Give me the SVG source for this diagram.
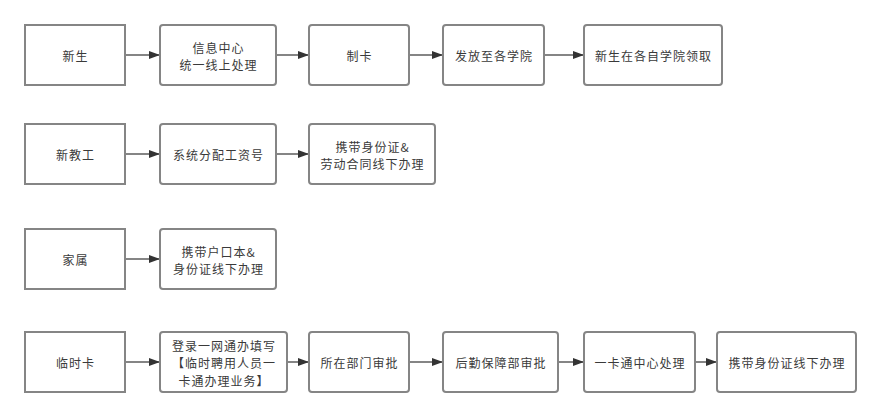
<svg xmlns="http://www.w3.org/2000/svg" width="881" height="417" viewBox="0 0 881 417">
<style>
.n{fill:#fff;stroke:#858585;stroke-width:2}
.t{font-family:"Noto Sans CJK SC","Liberation Sans",sans-serif;font-size:12px;letter-spacing:1px;fill:#3a3a3a;text-anchor:middle;dominant-baseline:central}
.c{stroke:#858585;stroke-width:2;fill:none;marker-end:url(#a)}
</style>
<defs>
<marker id="a" markerUnits="userSpaceOnUse" markerWidth="11" markerHeight="8" refX="11" refY="4" orient="auto">
<path d="M0,0 L11,4 L0,8 Z" fill="#333"/>
</marker>
</defs>
<rect width="881" height="417" fill="#fff"/>
<g id="connectors">
<path class="c" d="M125,55 H160"/>
<path class="c" d="M276,55 H309"/>
<path class="c" d="M409,55 H443"/>
<path class="c" d="M544,55 H584"/>
<path class="c" d="M125,154 H160"/>
<path class="c" d="M276,154 H309"/>
<path class="c" d="M125,259 H160"/>
<path class="c" d="M125,362 H160"/>
<path class="c" d="M287,362 H309"/>
<path class="c" d="M409,362 H443"/>
<path class="c" d="M558,362 H584"/>
<path class="c" d="M695,362 H717"/>
</g>
<g id="n1"><rect class="n" x="25" y="25" width="100" height="60"/><text class="t" x="75.5" y="55">新生</text></g>
<g id="n2"><rect class="n" x="160" y="25" width="116" height="60" rx="3"/><text class="t" x="218.5" y="47">信息中心</text><text class="t" x="218.5" y="64.5">统一线上处理</text></g>
<g id="n3"><rect class="n" x="309" y="25" width="100" height="60" rx="3"/><text class="t" x="359.5" y="55">制卡</text></g>
<g id="n4"><rect class="n" x="443" y="25" width="101" height="60" rx="3"/><text class="t" x="494" y="55">发放至各学院</text></g>
<g id="n5"><rect class="n" x="584" y="25" width="138" height="60" rx="3"/><text class="t" x="653.5" y="55">新生在各自学院领取</text></g>

<g id="n6"><rect class="n" x="25" y="124" width="100" height="60"/><text class="t" x="75.5" y="154">新教工</text></g>
<g id="n7"><rect class="n" x="160" y="124" width="116" height="60" rx="3"/><text class="t" x="218.5" y="154">系统分配工资号</text></g>
<g id="n8"><rect class="n" x="309" y="124" width="126" height="60" rx="3"/><text class="t" x="372.5" y="146">携带身份证&amp;</text><text class="t" x="372.5" y="163.5">劳动合同线下办理</text></g>

<g id="n9"><rect class="n" x="25" y="229" width="100" height="60"/><text class="t" x="75.5" y="259">家属</text></g>
<g id="n10"><rect class="n" x="160" y="229" width="116" height="60" rx="3"/><text class="t" x="218.5" y="251">携带户口本&amp;</text><text class="t" x="218.5" y="268.5">身份证线下办理</text></g>

<g id="n11"><rect class="n" x="25" y="332" width="100" height="60"/><text class="t" x="75.5" y="362">临时卡</text></g>
<g id="n12"><rect class="n" x="160" y="332" width="127" height="60" rx="3"/><text class="t" x="224" y="345">登录一网通办填写</text><text class="t" x="224" y="362.5">【临时聘用人员一</text><text class="t" x="224" y="380">卡通办理业务】</text></g>
<g id="n13"><rect class="n" x="309" y="332" width="100" height="60" rx="3"/><text class="t" x="359.5" y="362">所在部门审批</text></g>
<g id="n14"><rect class="n" x="443" y="332" width="115" height="60" rx="3"/><text class="t" x="501" y="362">后勤保障部审批</text></g>
<g id="n15"><rect class="n" x="584" y="332" width="111" height="60" rx="3"/><text class="t" x="640" y="362">一卡通中心处理</text></g>
<g id="n16"><rect class="n" x="717" y="332" width="139" height="60" rx="3"/><text class="t" x="787" y="362">携带身份证线下办理</text></g>
</svg>
